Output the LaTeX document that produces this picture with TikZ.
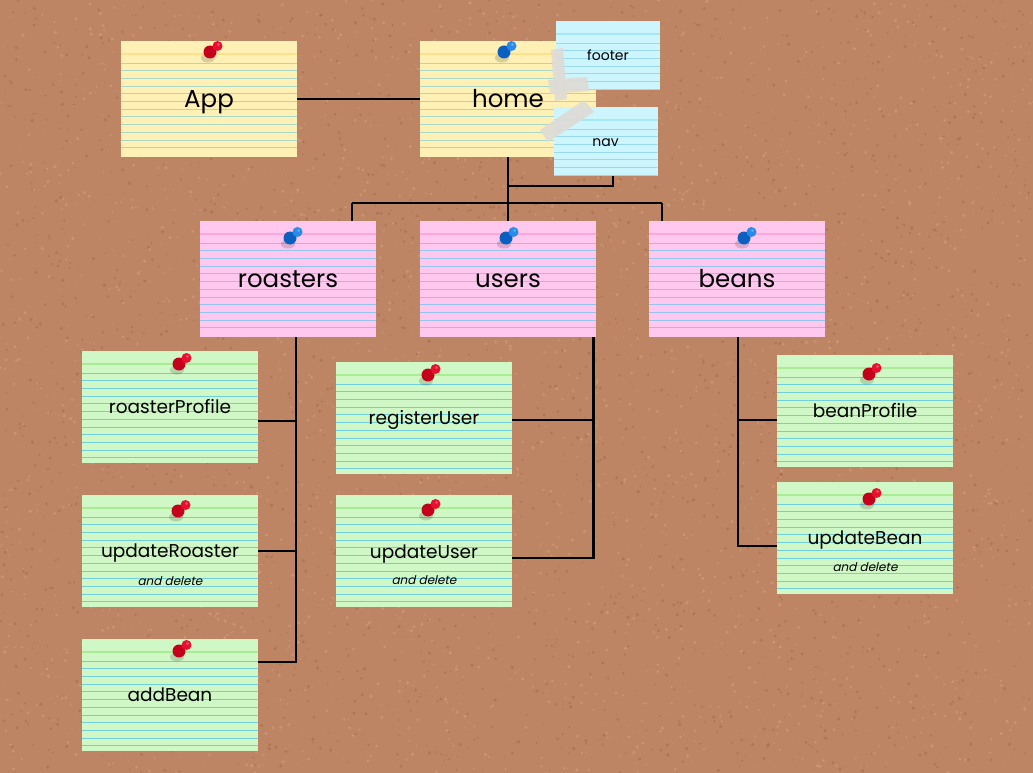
\documentclass[tikz,border=0pt]{standalone}
\usepackage{fontspec}
\setmainfont{Poppins}
\newfontfamily\slantfont[FakeSlant=0.22]{Poppins}
\usetikzlibrary{calc}
\definecolor{cork}{HTML}{BD8563}
\definecolor{corkdark}{HTML}{9E6443}
\definecolor{corklight}{HTML}{D8A686}
\definecolor{yelcard}{HTML}{FFF1B5}
\definecolor{yeltop}{HTML}{FFDF8A}
\definecolor{yelrule}{HTML}{A9D9C6}
\definecolor{pinkcard}{HTML}{FFC8EF}
\definecolor{pinktop}{HTML}{FFA6DA}
\definecolor{pinkrule}{HTML}{96C4F2}
\definecolor{grncard}{HTML}{D0F8C6}
\definecolor{grntop}{HTML}{A9EC94}
\definecolor{grnrule}{HTML}{70CFDA}
\definecolor{cyancard}{HTML}{CDF5FD}
\definecolor{cyantop}{HTML}{A6E6F6}
\definecolor{cyanrule}{HTML}{9AD8F0}
\definecolor{tape}{HTML}{DEDBD5}
\definecolor{pinred}{HTML}{C4001A}
\definecolor{pinredhead}{HTML}{E8102E}
\definecolor{pinblue}{HTML}{0B5FC0}
\definecolor{pinbluehead}{HTML}{2A8AE8}
\tikzset{
  card/.style n args={4}{fill=#1, minimum width=176pt, minimum height=#4, inner sep=0pt, text=black,
    text depth=0pt,
    path picture={
      \draw[#2, line width=1.8pt] ($(path picture bounding box.north west)+(0,13)$) -- ($(path picture bounding box.north east)+(0,13)$);
      \foreach \k in {0,...,11}
        \draw[#3, line width=0.8pt] ($(path picture bounding box.north west)+(0,22+\k*7.7)$) -- ($(path picture bounding box.north east)+(0,22+\k*7.7)$);
    }},
  yellowcard/.style={card={yelcard}{yeltop}{yelrule}{116pt}, font=\fontsize{24.5}{28}\selectfont, text height=17pt},
  pinkcardst/.style={card={pinkcard}{pinktop}{pinkrule}{116pt}, font=\fontsize{24.5}{28}\selectfont, text height=17pt},
  greencard/.style={card={grncard}{grntop}{grnrule}{112pt}, font=\fontsize{18.5}{21}\selectfont, text height=13pt},
  greentext/.style={font=\fontsize{18.5}{21}\selectfont, inner sep=0pt, text height=13pt, text depth=0pt},
  cyancardst/.style={card={cyancard}{cyantop}{cyanrule}{69pt}, minimum width=104pt, font=\fontsize{14}{16}\selectfont, text height=10pt},
  sub/.style={font=\slantfont\fontsize{12}{14}\selectfont, inner sep=0pt, text height=8.4pt, text depth=0pt},
  conn/.style={draw=black, line width=2.8pt},
  tapest/.style={fill=tape, opacity=0.9},
  pics/pin/.style 2 args={code={
    \fill[black, opacity=0.15] (-2,6) ellipse (7 and 4.5);
    \fill[#1] (0,0) circle (6.5);
    \fill[#2] (7.5,-6) circle (5);
    \fill[white, opacity=0.25] (8.5,-7.5) circle (1.7);
  }},
}
\begin{document}
\begin{tikzpicture}[x=1pt, y=-1pt]
  \useasboundingbox (0,0) rectangle (1033,773);
  \fill[cork] (0,0) rectangle (1033,773);
  \pgfmathsetseed{12}
  \foreach \i in {1,...,2600}{
    \pgfmathsetmacro\xx{rnd*1033}
    \pgfmathsetmacro\yy{rnd*773}
    \pgfmathsetmacro\rr{0.5+rnd*1.3}
    \fill[corkdark, opacity=0.45] (\xx,\yy) circle (\rr);
  }
  \foreach \i in {1,...,2600}{
    \pgfmathsetmacro\xx{rnd*1033}
    \pgfmathsetmacro\yy{rnd*773}
    \pgfmathsetmacro\rr{0.5+rnd*1.3}
    \fill[corklight, opacity=0.5] (\xx,\yy) circle (\rr);
  }

  % top row
  \node[yellowcard] (app) at (209,99) {App};
  \node[yellowcard] (home) at (508,99) {home};
  \node[cyancardst] (footer) at (608,55.5) {footer};
  \node[cyancardst] (nav) at (605.5,141.5) {nav};

  % tapes
  \fill[tapest] (551,50) -- (563,48) -- (567,99) -- (555,101) -- cycle;
  \fill[tapest] (548,80) -- (587,77) -- (589,91) -- (550,94) -- cycle;
  \fill[tapest] (540,130) -- (584,100) -- (594,112) -- (548,142) -- cycle;

  % second row
  \node[pinkcardst] (roasters) at (288,279) {roasters};
  \node[pinkcardst] (users) at (508,279) {users};
  \node[pinkcardst] (beans) at (737,279) {beans};

  % leaves
  \node[greencard] (rprofile) at (170,407) {roasterProfile};
  \node[greencard] (uroaster) at (170,551) {updateRoaster};
  \node[sub] (uroastersub) at (170,581) {and delete};
  \node[greencard] (addbean) at (170,695) {addBean};
  \node[greencard] (reguser) at (424,418) {registerUser};
  \node[greencard] (uuser) at (424,551) {};
  \node[greentext] (uusertxt) at (424,552) {updateUser};
  \node[sub] (uusersub) at (424,580) {and delete};
  \node[greencard] (bprofile) at (865,411) {beanProfile};
  \node[greencard] (ubean) at (865,538) {updateBean};
  \node[sub] (ubeansub) at (865,567) {and delete};

  % connectors
  \draw[conn] (app) -- (home);
  \draw[conn] (home.south) -- (users.north);
  \coordinate (navj) at (508,186);
  \draw[conn] ([xshift=7.5]nav.south) |- (navj);
  \coordinate (busL) at (352,203);
  \coordinate (busR) at (662,203);
  \draw[conn] (busL) -- (busR);
  \draw[conn] (busL) -- (busL |- roasters.north);
  \draw[conn] (busR) -- (busR |- beans.north);

  \coordinate (rtrunk) at ([xshift=8]roasters.south);
  \draw[conn] (rtrunk) |- ([yshift=33]addbean.east);
  \draw[conn] ([yshift=-14]rprofile.east) -| (rtrunk);
  \draw[conn] (uroaster.east) -| (rtrunk);

  \coordinate (utrunk) at ([xshift=-3]users.south east);
  \draw[conn] (utrunk) |- ([yshift=-7]uuser.east);
  \draw[conn] ([yshift=-2]reguser.east) -| (utrunk);

  \coordinate (btrunk) at ([xshift=1]beans.south);
  \draw[conn] (btrunk) |- ([yshift=-8]ubean.west);
  \draw[conn] ([yshift=-9]bprofile.west) -| (btrunk);

  % pins
  \pic at (210,52) {pin={pinred}{pinredhead}};
  \pic at (504,52) {pin={pinblue}{pinbluehead}};
  \pic at (290,238) {pin={pinblue}{pinbluehead}};
  \pic at (506,238) {pin={pinblue}{pinbluehead}};
  \pic at (744,238) {pin={pinblue}{pinbluehead}};
  \pic at (179,364) {pin={pinred}{pinredhead}};
  \pic at (178,511) {pin={pinred}{pinredhead}};
  \pic at (179,651) {pin={pinred}{pinredhead}};
  \pic at (428,375) {pin={pinred}{pinredhead}};
  \pic at (428,510) {pin={pinred}{pinredhead}};
  \pic at (869,374) {pin={pinred}{pinredhead}};
  \pic at (869,499) {pin={pinred}{pinredhead}};
\end{tikzpicture}
\end{document}
